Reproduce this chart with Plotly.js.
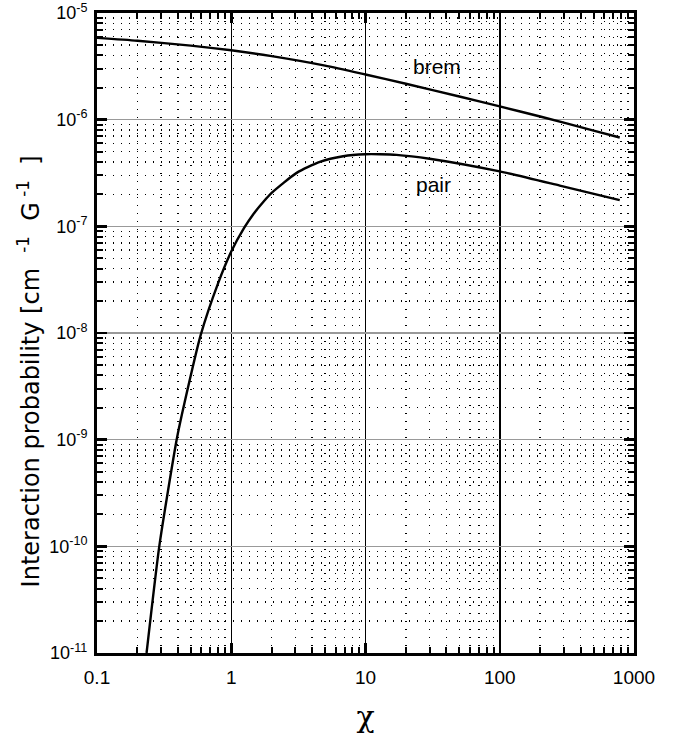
<!DOCTYPE html>
<html>
<head>
<meta charset="utf-8">
<script src="https://cdn.plot.ly/plotly-3.0.1.min.js"></script>
<style>body{margin:0;background:#fff}#chart{width:680px;height:741px}</style>
</head>
<body>
<div id="chart"></div>
<script>
// brem curve
const bremX = [0.1, 0.2, 0.5, 1, 2, 5, 10, 20, 50, 100, 200, 500, 783];
const bremY = [5.85e-6, 5.50e-6, 4.94e-6, 4.47e-6, 3.94e-6, 3.21e-6, 2.65e-6, 2.17e-6, 1.65e-6, 1.33e-6, 1.07e-6, 7.9e-7, 6.8e-7];
// pair curve
const pairX = [0.234, 0.291, 0.392, 0.45, 0.591, 0.8, 1, 1.25, 1.46, 1.75, 2, 3.07, 4.57, 6.82, 10, 12.8, 17, 30, 100, 280, 783];
const pairY = [1e-11, 1e-10, 1e-9, 2.25e-9, 9.5e-9, 2.95e-8, 5.8e-8, 9.7e-8, 1.3e-7, 1.72e-7, 2.06e-7, 3.17e-7, 4.02e-7, 4.54e-7, 4.74e-7, 4.74e-7, 4.68e-7, 4.3e-7, 3.27e-7, 2.41e-7, 1.76e-7];

const xTickVals = [0.1, 1, 10, 100, 1000];
const xTickText = ['0.1', '1', '10', '100', '1000'];
const yTickVals = [1e-11, 1e-10, 1e-9, 1e-8, 1e-7, 1e-6, 1e-5];
const yTickText = ['10<sup>-11</sup>', '10<sup>-10</sup>', '10<sup>-9</sup>', '10<sup>-8</sup>', '10<sup>-7</sup>', '10<sup>-6</sup>', '10<sup>-5</sup>'];
const yTitle = 'Interaction probability [cm  <sup>-1</sup>  G<sup> -1</sup>  ]';
const xTitle = 'χ';
const labels = ['brem', 'pair'];

const lineStyle = {color: '#000', width: 2.4, shape: 'spline', smoothing: 0.6};
const traces = [
  {x: bremX, y: bremY, mode: 'lines', line: lineStyle, name: labels[0], hoverinfo: 'skip'},
  {x: pairX, y: pairY, mode: 'lines', line: lineStyle, name: labels[1], hoverinfo: 'skip'}
];

const font = {family: 'Liberation Sans, Arial, sans-serif', color: '#000'};
const minorCommon = {ticks: 'inside', ticklen: 6, tickwidth: 2, tickcolor: '#000', showgrid: true, gridcolor: '#000', gridwidth: 1.4, griddash: '1.4px,6.6px'};

const layout = {
  width: 680, height: 741,
  margin: {l: 97, r: 46, t: 13, b: 88},
  paper_bgcolor: '#fff', plot_bgcolor: '#fff',
  showlegend: false,
  font: Object.assign({size: 18}, font),
  xaxis: {
    type: 'log', range: [-1, 3],
    tickvals: xTickVals, ticktext: xTickText,
    ticks: 'inside', ticklen: 10, tickwidth: 2.5, tickcolor: '#000',
    showline: true, linewidth: 3, linecolor: '#000', mirror: 'allticks',
    showgrid: true, gridcolor: '#000', gridwidth: 1.5,
    minor: Object.assign({dtick: 'D1'}, minorCommon),
    tickfont: Object.assign({size: 19}, font),
    ticklabelstandoff: 5,
    zeroline: false,
    title: {text: xTitle, font: {family: 'DejaVu Serif, serif', size: 30, color: '#000'}, standoff: 20}
  },
  yaxis: {
    type: 'log', range: [-11, -5],
    tickvals: yTickVals, ticktext: yTickText,
    ticks: 'inside', ticklen: 10, tickwidth: 2.5, tickcolor: '#000',
    showline: true, linewidth: 3, linecolor: '#000', mirror: 'allticks',
    showgrid: true, gridcolor: '#999', gridwidth: 1.5,
    minor: Object.assign({dtick: 'D1'}, minorCommon),
    tickfont: Object.assign({size: 18}, font),
    ticklabelstandoff: 3,
    zeroline: false
  },
  annotations: [
    {xref: 'paper', yref: 'paper', x: 0, y: 0.44, xshift: -68, textangle: -90, xanchor: 'center', yanchor: 'middle',
     text: yTitle, showarrow: false, font: {family: 'DejaVu Sans, sans-serif', size: 24, color: '#000'}},
    {x: Math.log10(34), y: -5.505, xref: 'x', yref: 'y', text: labels[0], showarrow: false, font: Object.assign({size: 21}, font)},
    {x: Math.log10(32), y: -6.61, xref: 'x', yref: 'y', text: labels[1], showarrow: false, font: Object.assign({size: 21}, font)}
  ]
};

Plotly.newPlot('chart', traces, layout, {staticPlot: true, displayModeBar: false});
</script>
</body>
</html>
